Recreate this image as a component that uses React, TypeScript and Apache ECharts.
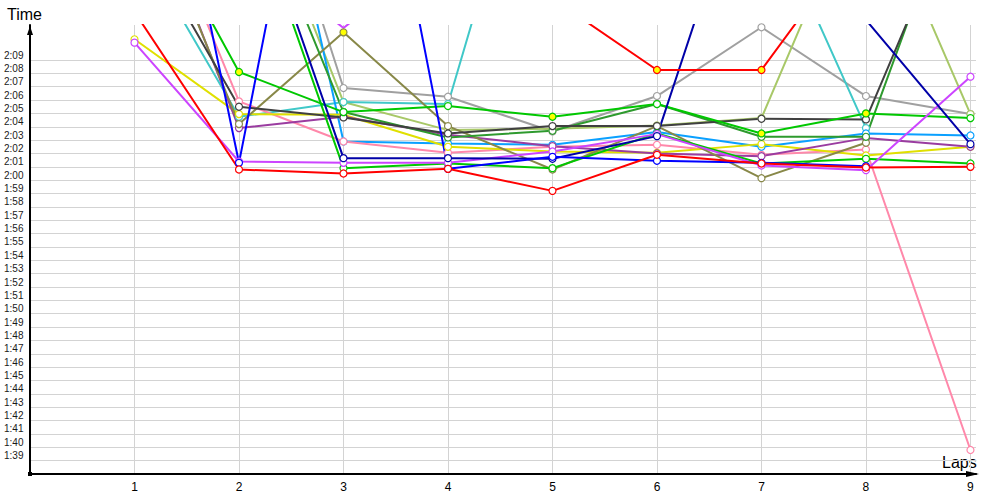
import React, { useEffect, useRef } from 'react';
import * as echarts from 'echarts';

// Lap numbers
const laps = [1, 2, 3, 4, 5, 6, 7, 8, 9];

// Y range (seconds): 1:38 .. top of plot; labelled ticks 1:38 .. 2:09
const yMin = 98;
const yMaxPlot = 131.62;
const yMaxLabel = 129;

// Lap times in seconds, one array per driver (null = no lap)
const redA = [132.6, 120.8, 120.5, 120.85, 119.2, 121.9, 121.25, 120.95, 121.0];
const redB = [null, null, null, 150, 133.6, 128.25, 128.25, 138.9, null];
const blue = [159, 121.3, 161, 120.85, 121.75, 121.45, 121.3, 121.05, null];
const navy = [150, 144.1, 121.65, 121.65, 121.6, 123.3, 147, 132.0, 122.7];
const green1 = [142.45, 128.1, 125.1, 125.55, 124.75, 125.7, 123.5, 125.0, 124.65];
const green2 = [150, 143.2, 120.9, 121.25, 120.9, 123.5, 121.25, 121.6, 121.25];
const darkGreen = [150, 144.2, 125.1, 123.2, 123.7, 125.7, 123.25, 123.25, 144.7];
const black = [139.15, 125.5, 124.7, 123.5, 124.05, 124.05, 124.6, 124.55, 143];
const grey = [155, 151.3, 126.9, 126.25, 123.65, 126.3, 131.45, 126.3, 124.95];
const teal = [138.2, 124.75, 125.85, 125.7, 152.3, 148, 141.3, 123.9, null];
const lightOlive = [150, 145.7, 125.85, 123.75, 123.85, 124.1, 124.65, 143, 124.95];
const lightBlue = [160, 158, 122.9, 122.75, 122.65, 123.6, 122.5, 123.5, 123.35];
const yellow = [130.55, 124.95, 124.9, 122.5, 122.15, 122.05, 122.7, 121.85, 122.5];
const magenta = [130.3, 121.4, 121.3, 121.3, 122.15, 123.45, 121.1, 120.75, 127.75];
const purple = [144, 123.9, 124.75, 123.4, 122.55, 122.0, 121.8, 123.15, 122.5];
const pink = [145, 125.9, 122.9, 122.05, 122.5, 122.65, 121.9, 122.3, 99.8];
const olive = [143.3, 124.2, 131.07, 124.05, 120.8, 124.05, 120.15, 122.8, null];
const violet2 = [null, 137.5, 131.4, 137.5, null, null, null, null, null];

// Laps whose marker is filled yellow (index into laps)
const green1Highlight = [1, 4, 6, 7];
const redBHighlight = [5, 6];
const oliveHighlight = [2];

const driverSeries = [
  { name: 'A', values: grey, color: '#a0a0a0', hl: [] as number[], marks: true },
  { name: 'B', values: lightOlive, color: '#a8c868', hl: [] as number[], marks: true },
  { name: 'C', values: teal, color: '#40c8c8', hl: [] as number[], marks: true },
  { name: 'D', values: lightBlue, color: '#0aa0ff', hl: [] as number[], marks: true },
  { name: 'E', values: pink, color: '#ff88aa', hl: [] as number[], marks: true },
  { name: 'F', values: yellow, color: '#e0e000', hl: [] as number[], marks: true },
  { name: 'G', values: purple, color: '#9a3ca0', hl: [] as number[], marks: true },
  { name: 'H', values: olive, color: '#888848', hl: oliveHighlight, marks: true },
  { name: 'I', values: darkGreen, color: '#2e9a2e', hl: [] as number[], marks: true },
  { name: 'J', values: black, color: '#404040', hl: [] as number[], marks: true },
  { name: 'K', values: green2, color: '#00c800', hl: [] as number[], marks: true },
  { name: 'L', values: green1, color: '#00c800', hl: green1Highlight, marks: true },
  { name: 'M', values: magenta, color: '#cc44ff', hl: [] as number[], marks: true },
  { name: 'N', values: violet2, color: '#cc44ff', hl: [] as number[], marks: false },
  { name: 'O', values: navy, color: '#0000a8', hl: [] as number[], marks: true },
  { name: 'P', values: blue, color: '#0000ff', hl: [] as number[], marks: true },
  { name: 'Q', values: redB, color: '#ff0000', hl: redBHighlight, marks: true },
  { name: 'R', values: redA, color: '#ff0000', hl: [] as number[], marks: true },
];

const fmt = (v: number) => {
  const m = Math.floor(v / 60);
  const s = Math.round(v - m * 60);
  return `${m}:${String(s).padStart(2, '0')}`;
};

const FONT = 'Liberation Sans';

export default function App() {
  const ref = useRef<HTMLDivElement>(null);
  useEffect(() => {
    if (!ref.current) return;
    const chart = echarts.init(ref.current, undefined, { renderer: 'svg' });
    const series = driverSeries.map((d) => ({
      type: 'line',
      name: d.name,
      xAxisIndex: 0,
      yAxisIndex: 0,
      clip: true,
      symbol: 'circle',
      symbolSize: 7,
      showSymbol: d.marks,
      showAllSymbol: true,
      lineStyle: { color: d.color, width: 2 },
      itemStyle: { color: '#ffffff', borderColor: d.color, borderWidth: 1.2 },
      emphasis: { disabled: true },
      data: laps.map((lap, i) => {
        const v = d.values[i];
        const item: any = { value: [lap, v === null ? null : v] };
        if (d.hl.indexOf(i) >= 0) item.itemStyle = { color: '#ffff00', borderColor: d.color };
        return item;
      }),
    }));
    chart.setOption({
      animation: false,
      backgroundColor: '#ffffff',
      grid: [
        { left: 30, right: 24, top: 25, bottom: 26 },
        { left: 30, right: 24, top: 60, bottom: 26 },
      ],
      xAxis: [
        {
          type: 'value',
          gridIndex: 0,
          min: 0,
          max: 9.053,
          interval: 1,
          axisLine: { show: true, lineStyle: { color: '#000', width: 2 } },
          axisTick: { show: false },
          axisLabel: {
            formatter: (v: number) => (v >= 1 && v <= 9 && Math.abs(v - Math.round(v)) < 1e-6 ? String(Math.round(v)) : ''),
            color: '#000',
            fontSize: 12,
            fontFamily: FONT,
            margin: 7,
          },
          splitLine: { show: true, showMinLine: false, showMaxLine: false, lineStyle: { color: '#d3d3d3', width: 1 } },
        },
        { type: 'value', gridIndex: 1, min: 0, max: 9.053, show: false },
      ],
      yAxis: [
        {
          type: 'value',
          gridIndex: 0,
          min: yMin,
          max: yMaxPlot,
          axisLine: { show: true, lineStyle: { color: '#000', width: 2 } },
          axisTick: { show: false },
          axisLabel: { show: false },
          splitLine: { show: false },
        },
        {
          type: 'value',
          gridIndex: 1,
          min: yMin,
          max: yMaxLabel,
          interval: 1,
          axisLine: { show: false },
          axisTick: { show: false },
          axisLabel: {
            formatter: (v: number) => (v <= yMin + 0.5 ? '' : fmt(v)),
            align: 'left',
            verticalAlign: 'bottom',
            margin: 26,
            fontSize: 10,
            fontFamily: FONT,
            color: '#1a1a1a',
          },
          splitLine: { show: true, lineStyle: { color: '#d3d3d3', width: 1 } },
        },
      ],
      graphic: [
        { type: 'text', left: 7, top: 6, style: { text: 'Time', fontSize: 16, fontFamily: FONT, fill: '#000' } },
        { type: 'text', left: 942, top: 454, style: { text: 'Laps', fontSize: 16, fontFamily: FONT, fill: '#000' } },
        { type: 'polygon', shape: { points: [[30, 26], [27, 35], [33, 35]] }, style: { fill: '#000' }, z: 10 },
        { type: 'polygon', shape: { points: [[979, 474], [966, 471], [966, 477]] }, style: { fill: '#000' }, z: 10 },
        { type: 'rect', shape: { x: 28, y: 472, width: 4, height: 4 }, style: { fill: '#000' }, z: 10 },
      ],
      series,
    });
    return () => chart.dispose();
  }, []);
  return <div ref={ref} style={{ position: 'absolute', left: 0, top: 0, width: 1000, height: 500 }} />;
}
